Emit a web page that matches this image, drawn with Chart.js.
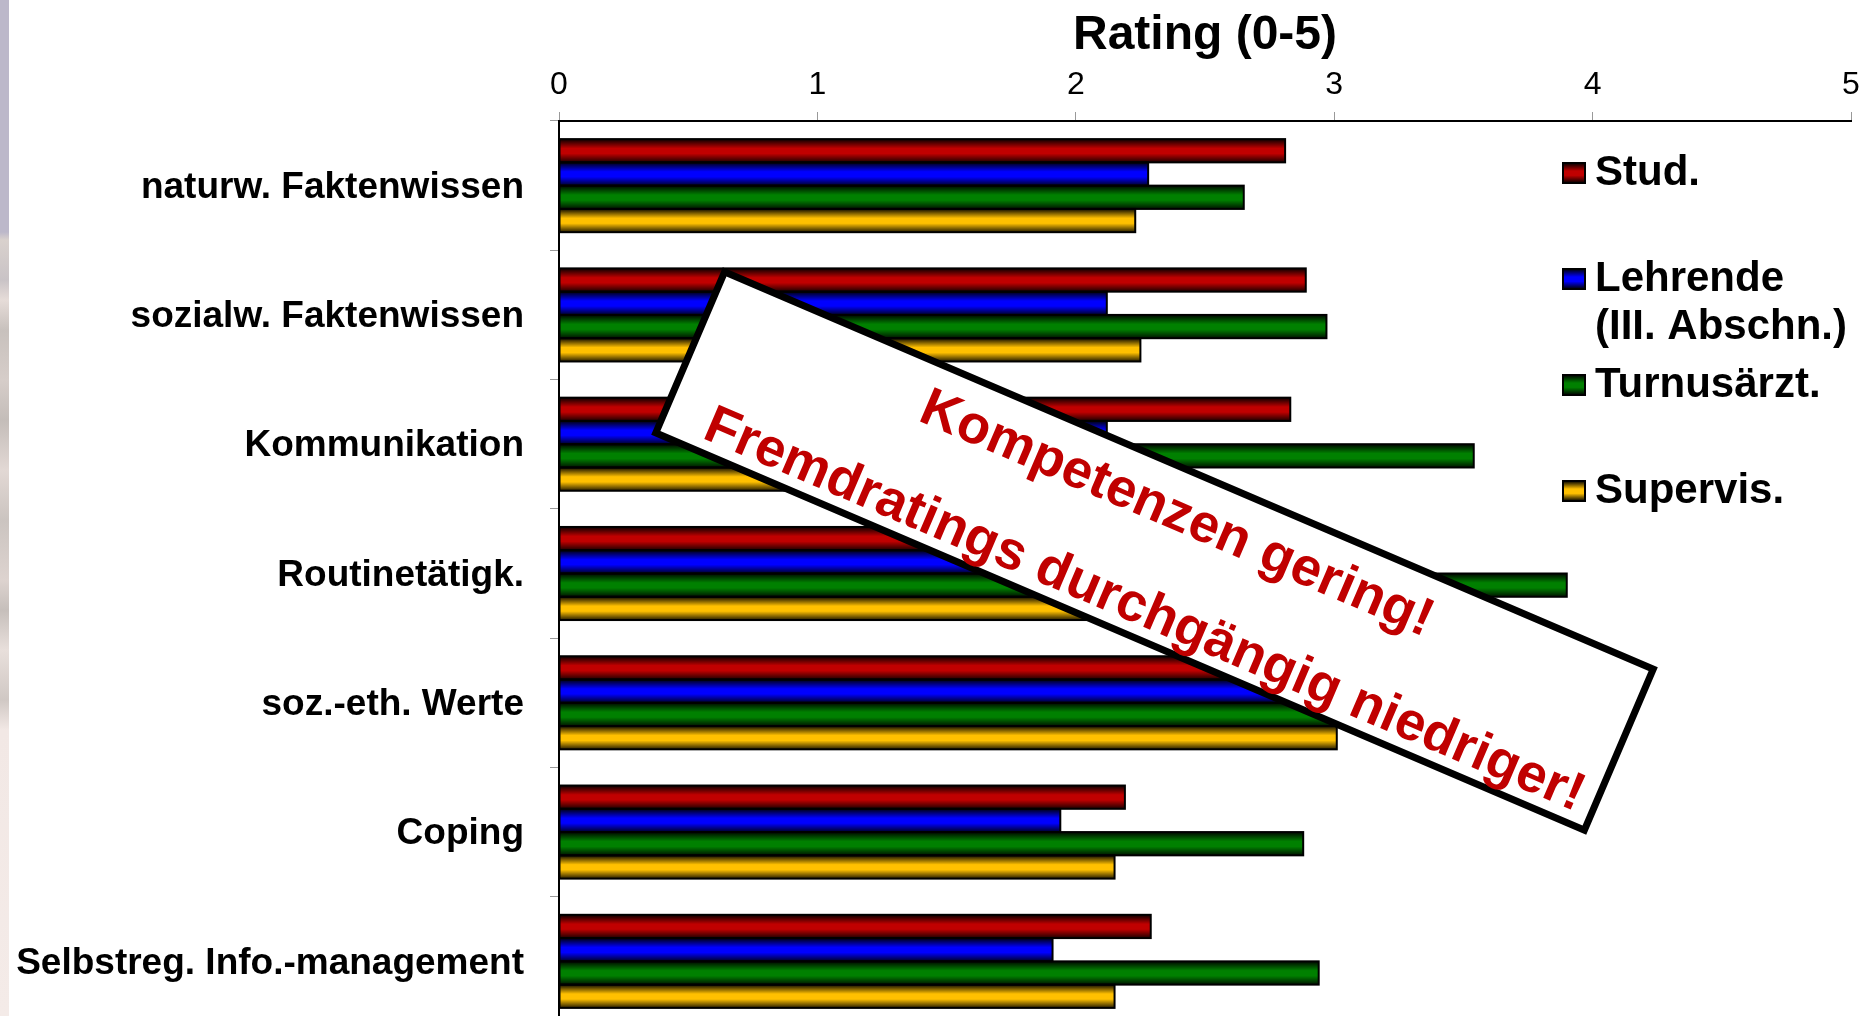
<!DOCTYPE html>
<html>
<head>
<meta charset="utf-8">
<script src="https://cdn.jsdelivr.net/npm/chart.js@4.4.0/dist/chart.umd.min.js"></script>
<style>
  html, body { margin: 0; padding: 0; background: #fff; overflow: hidden; }
  #wrap { position: relative; width: 1876px; height: 1016px; overflow: hidden; }
  #stripe {
    position: absolute; left: 0; top: 0; width: 9px; height: 1016px;
    background: linear-gradient(to bottom,
      #bcb8ca 0px, #bcb8ca 232px, #d9d1cd 240px, #c9c3c6 280px, #e6dcd8 300px,
      #c8c1bd 330px, #d6cdc9 380px, #c4bdb9 420px, #e2d8d4 470px, #cbc4c0 520px,
      #ddd3cf 580px, #c6bfbb 610px, #e8dfdb 650px, #d0c8c4 700px, #f2e8e5 730px, #f4ebe8 1016px);
  }
  #chart { position: absolute; left: 0; top: 0; }
</style>
</head>
<body>
<div id="wrap">
  <canvas id="chart" width="1876" height="1030"></canvas>
  <div id="stripe"></div>
</div>
<script>
const categories = [
  'naturw. Faktenwissen',
  'sozialw. Faktenwissen',
  'Kommunikation',
  'Routinetätigk.',
  'soz.-eth. Werte',
  'Coping',
  'Selbstreg. Info.-management'
];

const stud      = [2.81, 2.89, 2.83, 2.75, 2.95, 2.19, 2.29];
const lehrende  = [2.28, 2.12, 2.12, 2.20, 2.85, 1.94, 1.91];
const turnus    = [2.65, 2.97, 3.54, 3.90, 3.20, 2.88, 2.94];
const supervis  = [2.23, 2.25, 2.20, 2.30, 3.01, 2.15, 2.15];

const legendLines = [['Stud.'], ['Lehrende', '(III. Abschn.)'], ['Turnusärzt.'], ['Supervis.']];
const xTicks = [0, 1, 2, 3, 4, 5];
const axisTitle = 'Rating (0-5)';
const noteLines = ['Kompetenzen gering!', 'Fremdratings durchgängig niedriger!'];

const FONT = '"Liberation Sans", Arial, sans-serif';
const colors = ['#c00000', '#0000ff', '#008000', '#ffc000'];

// shading + outline on each bar, like the old office 3d-ish bars
const barShade = {
  id: 'barShade',
  afterDatasetsDraw(chart) {
    const ctx = chart.ctx;
    chart.data.datasets.forEach((ds, i) => {
      const meta = chart.getDatasetMeta(i);
      meta.data.forEach(bar => {
        const { x, y, base, height } = bar.getProps(['x', 'y', 'base', 'height'], true);
        const top = y - height / 2;
        const g = ctx.createLinearGradient(0, top, 0, top + height);
        g.addColorStop(0, 'rgba(0,0,0,0.95)');
        g.addColorStop(0.4, 'rgba(0,0,0,0)');
        g.addColorStop(0.62, 'rgba(0,0,0,0)');
        g.addColorStop(1, 'rgba(0,0,0,0.85)');
        ctx.save();
        ctx.fillStyle = g;
        ctx.fillRect(base, top, x - base, height);
        ctx.lineWidth = 2;
        ctx.strokeStyle = '#000';
        ctx.strokeRect(base, top, x - base, height);
        ctx.restore();
      });
    });
  }
};

// legend on the right + the rotated note box
const extras = {
  id: 'extras',
  afterDraw(chart) {
    const ctx = chart.ctx;

    // note box
    ctx.save();
    ctx.translate(1154.5, 551);
    ctx.rotate(Math.atan2(400, 935));
    ctx.fillStyle = '#fff';
    ctx.fillRect(-505, -87.5, 1010, 175);
    ctx.lineWidth = 7;
    ctx.strokeStyle = '#000';
    ctx.strokeRect(-505, -87.5, 1010, 175);
    ctx.fillStyle = '#c00000';
    ctx.font = 'bold 54px ' + FONT;
    ctx.textAlign = 'center';
    ctx.textBaseline = 'alphabetic';
    ctx.fillText(noteLines[0], 6, -27);
    ctx.fillText(noteLines[1], 14, 74);
    ctx.restore();

    // legend
    ctx.save();
    ctx.font = 'bold 42px ' + FONT;
    ctx.textBaseline = 'middle';
    ctx.textAlign = 'left';
    legendLines.forEach((lines, i) => {
      const cy = 173 + i * 106;
      const g = ctx.createLinearGradient(0, cy - 10, 0, cy + 10);
      g.addColorStop(0, '#000');
      g.addColorStop(0.4, colors[i]);
      g.addColorStop(0.62, colors[i]);
      g.addColorStop(1, '#000');
      ctx.fillStyle = g;
      ctx.fillRect(1563, cy - 10, 22, 20);
      ctx.lineWidth = 2;
      ctx.strokeStyle = '#000';
      ctx.strokeRect(1563, cy - 10, 22, 20);
      ctx.fillStyle = '#000';
      lines.forEach((t, k) => ctx.fillText(t, 1595, cy + k * 48));
    });
    ctx.restore();
  }
};

const ctx = document.getElementById('chart').getContext('2d');
window.ratingChart = new Chart(ctx, {
  type: 'bar',
  data: {
    labels: categories,
    datasets: [
      { label: legendLines[0].join(' '), data: stud, backgroundColor: colors[0] },
      { label: legendLines[1].join(' '), data: lehrende, backgroundColor: colors[1] },
      { label: legendLines[2].join(' '), data: turnus, backgroundColor: colors[2] },
      { label: legendLines[3].join(' '), data: supervis, backgroundColor: colors[3] },
    ],
  },
  options: {
    indexAxis: 'y',
    responsive: false,
    animation: false,
    layout: { padding: { left: 0, right: 25, top: 0, bottom: 4 } },
    datasets: {
      bar: { categoryPercentage: 0.72, barPercentage: 1.0, borderWidth: 0 },
    },
    scales: {
      x: {
        position: 'top',
        min: 0,
        max: 5,
        afterBuildTicks: (s) => { s.ticks = xTicks.map(v => ({ value: v })); },
        afterFit: (s) => { s.height = 121; s.paddingLeft = 0; s.paddingRight = 0; },
        ticks: { color: '#000', font: { family: FONT, size: 32 }, padding: 8 },
        grid: { drawOnChartArea: false, color: '#999', tickLength: 9, lineWidth: 1 },
        border: { color: '#000', width: 2 },
        title: {
          display: true,
          text: axisTitle,
          color: '#000',
          font: { family: FONT, size: 48, weight: 'bold' },
          padding: { top: 7, bottom: 0 },
        },
      },
      y: {
        afterFit: (s) => { s.width = 559; s.paddingTop = 0; s.paddingBottom = 0; },
        ticks: { color: '#000', font: { family: FONT, size: 37, weight: 'bold' }, padding: 26, labelOffset: 2 },
        grid: { drawOnChartArea: false, color: '#999', tickLength: 9, offset: true },
        border: { color: '#000', width: 2 },
      },
    },
    plugins: {
      legend: { display: false },
      tooltip: { enabled: false },
    },
  },
  plugins: [barShade, extras],
});
</script>
</body>
</html>
